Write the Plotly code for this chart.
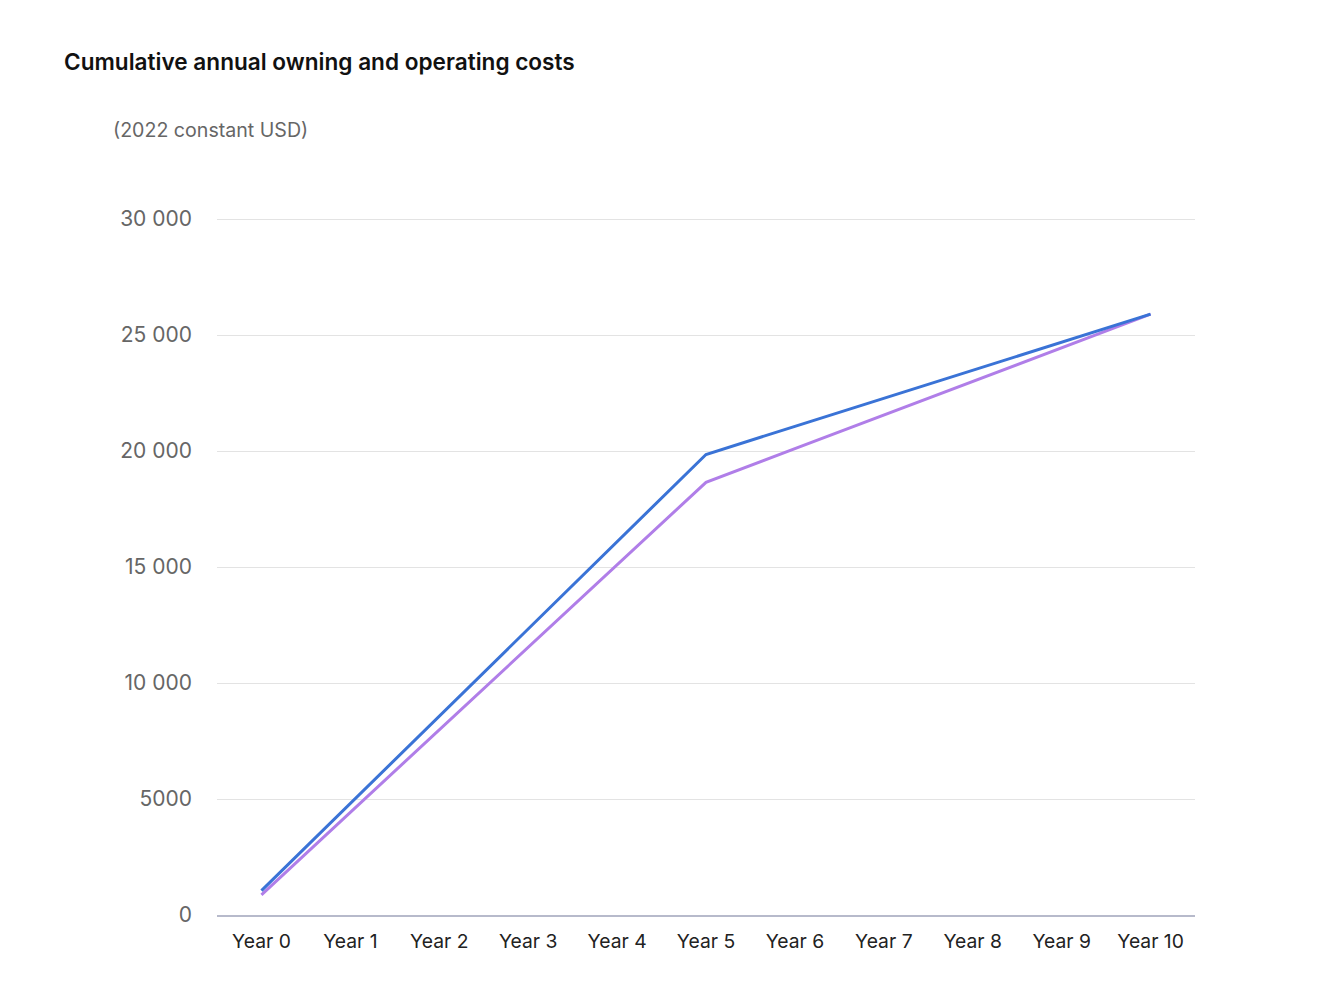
import plotly.graph_objects as go

years = ["Year 0", "Year 1", "Year 2", "Year 3", "Year 4", "Year 5",
         "Year 6", "Year 7", "Year 8", "Year 9", "Year 10"]
series_a = [1050, 4810, 8570, 12330, 16090, 19850, 21060, 22270, 23480, 24690, 25900]
series_b = [870, 4430, 7980, 11540, 15090, 18650, 20100, 21550, 23000, 24450, 25900]
y_ticks = [0, 5000, 10000, 15000, 20000, 25000, 30000]
y_tick_text = ["0", "5000", "10 000", "15 000", "20 000", "25 000", "30 000"]

FONT = "Inter, Roboto, sans-serif"

TOP = 215
PLOT_H = 1007 - 92 - TOP
YMAX = 30000 * PLOT_H / 696

fig = go.Figure()
fig.add_trace(go.Scatter(x=years, y=series_b, mode="lines",
                         line=dict(color="#b07ee8", width=3), showlegend=False))
fig.add_trace(go.Scatter(x=years, y=series_a, mode="lines",
                         line=dict(color="#3a73d6", width=3), showlegend=False))

fig.update_layout(
    width=1341, height=1007,
    paper_bgcolor="white", plot_bgcolor="white",
    margin=dict(l=217, r=146, t=TOP, b=92),
    font=dict(family=FONT, color="#555555", size=19),
    annotations=[
        dict(text="Cumulative annual owning and operating costs", xref="paper", yref="paper",
             x=(62 - 217) / 978, y=1 + (TOP - 62) / PLOT_H, xanchor="left", yanchor="middle",
             showarrow=False, font=dict(family=FONT, size=22.6, color="#111111", weight=600)),
        dict(text="(2022 constant USD)", xref="paper", yref="paper",
             x=(111 - 217) / 978, y=1 + (TOP - 130) / PLOT_H, xanchor="left", yanchor="middle",
             showarrow=False, font=dict(family=FONT, size=19.6, color="#666666")),
    ],
)
fig.update_xaxes(type="category", range=[-0.5, 10.5], showgrid=False,
                 showline=True, linecolor="#b7bacb", linewidth=2,
                 ticks="", tickfont=dict(color="#222222", size=19.3), ticklabelstandoff=8)
fig.update_yaxes(range=[0, YMAX], tickvals=y_ticks, ticktext=y_tick_text,
                 showgrid=True, gridcolor="#e3e3e3", gridwidth=1, zeroline=False,
                 showline=False, ticks="", tickfont=dict(color="#666666", size=21),
                 ticklabelstandoff=24)

fig.write_html("out.html")
